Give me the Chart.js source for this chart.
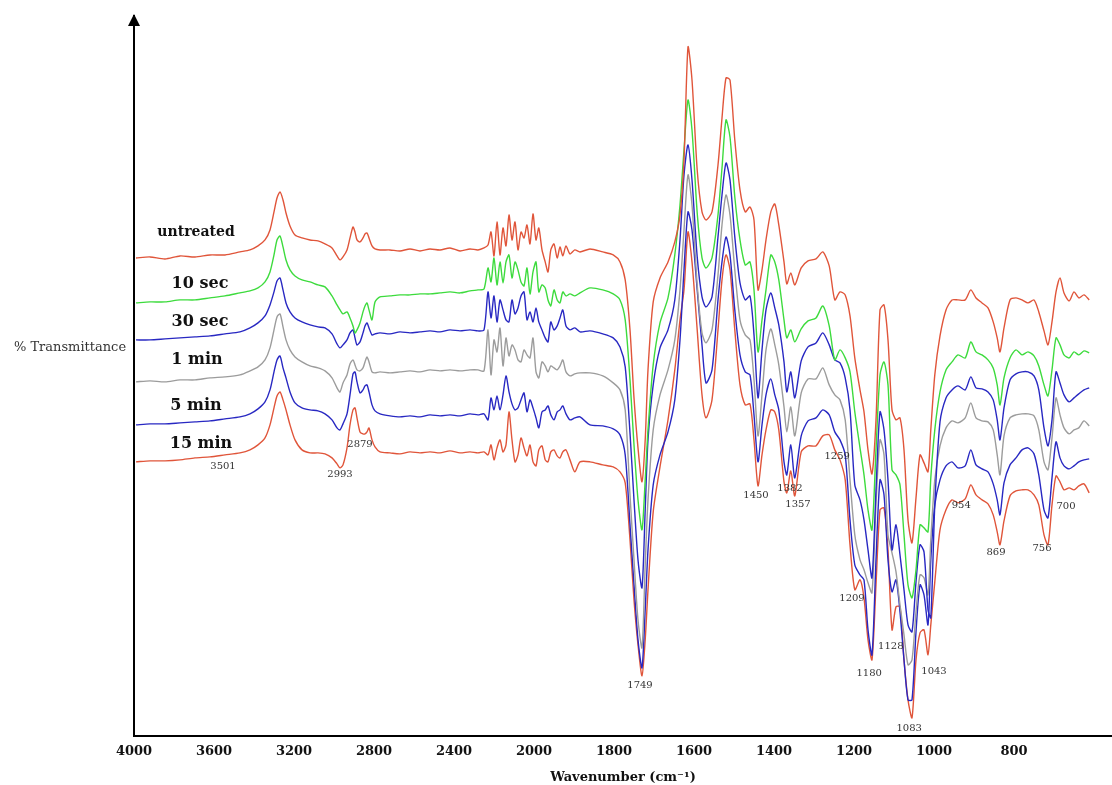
<!DOCTYPE html>
<html>
<head>
<meta charset="utf-8">
<script src="https://cdn.jsdelivr.net/npm/chart.js@4.4.1/dist/chart.umd.min.js"></script>
<style>
  html, body { margin: 0; padding: 0; background: #fff; }
</style>
</head>
<body>
<canvas id="ftir" width="1112" height="785"></canvas>
<script>
// wavenumber grid (cm-1) shared by all spectra
const wavenumbers = [
  3990,3920,3845,3770,3695,3620,3545,3470,3420,3380,3345,3320,3300,3285,3270,3255,3240,3220,3195,3160,
  3120,3080,3045,3010,2985,2970,2955,2935,2920,2905,2895,2885,2870,2855,2845,2835,2825,2810,2795,2770,
  2720,2670,2620,2570,2520,2470,2420,2370,2320,2280,2250,
  2230,2215,2200,2185,2170,2155,2140,2125,2110,2095,2080,2065,2050,2035,2020,2005,1995,1988,1980,1972,
  1965,1958,1950,1942,1935,1928,1920,1910,1898,1885,
  1860,1828,1802,1785,1772,1760,1750,1740,1730,1722,1715,1702,1685,1665,1648,1635,1625,1615,1605,1592,
  1580,1570,1555,1540,1530,1520,1510,1498,1485,1472,1460,1450,1440,1430,1420,1408,1398,1388,1375,1368,
  1358,1348,1332,1315,1295,1278,1262,1248,1235,1222,1210,1198,1185,1175,1165,1155,1145,1135,1125,1115,
  1105,1095,1085,1075,1065,1055,1045,1035,1025,1015,1008,998,985,970,955,940,922,908,895,880,
  865,852,842,835,825,810,795,780,765,750,738,725,715,705,695,685,675,662,650,638,625,612
];

// % transmittance, offset spectra
const untreated = [
  47.8,47.9,47.7,48.0,47.9,48.1,48.1,48.4,48.6,49.0,49.6,50.6,52.4,53.8,54.4,53.6,52.3,51.0,50.1,49.8,
  49.6,49.5,49.2,48.8,48.0,47.6,47.9,48.6,49.8,50.9,50.4,49.6,49.4,49.8,50.2,50.3,49.8,49.0,48.7,48.6,
  48.6,48.5,48.7,48.5,48.7,48.6,48.8,48.5,48.7,48.6,48.8,
  49.1,50.4,48.0,51.4,48.1,50.8,49.0,52.1,49.6,51.4,48.6,50.4,49.8,51.1,49.2,52.2,49.6,50.8,48.6,47.4,
  46.4,48.6,49.2,47.8,48.9,48.0,49.0,48.2,48.6,48.4,
  48.7,48.4,48.1,47.4,45.6,40.6,33.8,28.8,25.4,29.6,36.6,43.4,45.8,47.4,49.4,52.1,57.6,68.9,65.6,56.6,
  52.4,51.6,52.4,57.1,61.8,65.8,65.6,59.6,54.6,52.4,52.9,51.6,44.6,46.6,49.6,52.4,53.2,51.1,47.4,45.2,
  46.3,45.1,46.8,47.5,47.7,48.4,47.0,43.6,44.4,44.1,42.0,37.8,34.6,32.4,28.6,26.2,31.6,42.6,43.1,39.6,
  32.6,31.6,31.8,28.6,21.6,19.3,23.8,28.1,27.3,26.4,30.6,36.1,40.0,42.6,43.6,43.6,43.6,44.6,43.8,43.3,
  42.8,41.4,39.8,38.4,40.8,43.6,43.8,43.6,43.3,43.6,42.4,40.5,39.1,41.4,44.4,45.8,44.3,43.5,44.4,43.8,
  44.1,43.6
];
const sec10 = [
  43.3,43.4,43.4,43.6,43.6,43.8,44.0,44.3,44.5,44.8,45.4,46.4,48.1,49.6,50.0,48.9,47.6,46.6,46.0,45.6,
  45.4,45.1,44.9,44.0,43.1,42.6,42.2,42.4,41.8,41.0,40.3,40.6,41.3,42.4,43.0,43.3,42.6,41.6,43.4,43.9,
  44.0,44.1,44.1,44.2,44.2,44.3,44.4,44.3,44.5,44.6,44.7,
  46.8,45.4,47.8,45.1,47.4,45.3,47.4,48.1,45.8,47.4,46.6,45.4,45.0,46.8,44.2,46.4,47.4,44.4,45.1,44.8,
  43.6,43.0,44.6,43.6,43.3,44.4,44.0,44.2,44.0,44.3,
  44.8,44.6,44.2,43.6,41.6,35.6,29.1,23.6,20.6,25.6,30.6,37.1,41.3,43.8,48.1,53.1,58.6,63.6,60.6,52.3,
  47.8,46.8,47.8,52.1,56.8,61.6,59.9,53.9,49.6,47.1,47.4,44.6,38.4,41.6,44.6,48.1,47.4,45.6,41.6,39.8,
  40.6,39.4,40.7,41.5,41.8,43.0,41.0,37.6,38.6,37.8,36.4,32.4,28.8,26.1,22.6,20.6,28.6,36.1,37.4,35.1,
  26.6,26.1,25.1,20.1,15.1,13.8,16.6,21.1,20.8,20.4,25.8,30.6,34.4,36.6,37.4,38.1,37.8,39.4,38.4,38.1,
  37.6,36.8,35.1,33.1,35.8,37.8,38.6,38.1,38.4,38.0,37.0,35.1,34.0,36.6,39.8,39.1,38.1,37.8,38.4,38.1,
  38.5,38.3
];
const sec30 = [
  39.6,39.6,39.7,39.8,39.9,40.0,40.2,40.4,40.8,41.3,42.0,43.1,44.4,45.5,45.8,44.6,43.3,42.4,41.8,41.4,
  41.1,40.9,40.8,40.2,39.2,38.8,39.1,39.6,40.3,40.6,39.8,39.1,39.4,40.3,41.0,41.3,40.8,40.1,40.2,40.3,
  40.2,40.4,40.3,40.4,40.5,40.4,40.6,40.5,40.6,40.5,40.6,
  44.4,41.8,44.0,41.4,43.6,42.6,41.6,41.4,43.6,42.2,42.8,44.0,44.4,41.6,42.4,41.4,42.8,41.4,40.6,39.8,
  39.4,41.4,40.6,41.0,41.8,42.6,41.0,40.6,40.8,40.4,
  40.5,40.2,39.8,38.9,36.9,30.3,23.6,17.6,14.8,22.6,29.6,35.1,38.8,40.6,43.6,49.6,56.1,59.1,55.6,47.9,
  43.9,42.9,43.9,49.9,54.1,57.3,55.6,49.9,45.3,43.6,44.0,40.1,33.8,38.6,42.6,44.3,42.8,41.1,37.4,34.4,
  36.4,33.8,37.5,38.9,39.3,40.3,39.1,37.6,37.3,35.8,32.6,25.1,23.6,21.6,18.6,15.8,24.6,32.4,30.6,25.6,
  18.6,21.1,18.1,14.6,11.1,10.4,15.4,19.1,18.4,12.6,11.8,23.1,31.4,33.8,34.6,35.0,34.6,35.9,34.8,34.7,
  34.4,33.6,31.6,29.6,32.8,35.6,36.2,36.4,36.4,36.0,34.6,30.8,29.0,31.6,36.4,35.3,34.1,33.4,33.8,34.2,
  34.6,34.8
];
const min1 = [
  35.4,35.5,35.4,35.6,35.6,35.8,35.9,36.1,36.5,36.9,37.6,38.8,40.6,41.9,42.2,40.9,39.6,38.6,37.9,37.4,
  37.0,36.8,36.5,35.8,34.8,34.4,35.3,36.1,37.2,37.6,37.1,36.6,36.5,36.8,37.4,37.9,37.4,36.4,36.3,36.4,
  36.3,36.4,36.5,36.4,36.6,36.5,36.6,36.5,36.6,36.6,36.5,
  40.6,36.1,39.6,38.4,40.8,37.0,39.8,38.0,39.1,38.6,37.6,37.4,38.6,38.1,37.8,39.8,36.4,35.8,37.4,37.0,
  36.4,37.0,36.8,36.6,37.0,37.6,36.4,36.0,36.2,36.3,
  36.3,36.0,35.3,34.6,32.6,24.1,17.6,11.6,8.8,17.1,23.6,30.6,34.1,36.6,39.6,44.6,50.6,56.1,53.1,45.1,
  40.3,39.3,40.6,46.1,51.1,54.1,52.1,46.6,41.6,40.1,39.6,35.6,30.0,34.1,38.6,40.7,39.1,37.1,32.9,30.4,
  32.9,30.0,34.3,35.7,35.7,36.8,35.1,34.1,33.6,31.6,25.6,20.1,17.6,16.6,15.3,14.3,23.1,29.6,28.1,20.1,
  18.3,16.4,13.1,10.1,7.1,7.6,12.4,16.1,15.8,14.1,19.6,25.6,29.0,30.8,31.5,31.3,31.8,33.3,31.8,31.5,
  31.4,30.6,28.1,26.1,30.0,31.8,32.1,32.2,32.2,32.0,30.6,27.4,26.6,29.8,33.8,32.1,30.8,30.2,30.6,30.8,
  31.5,31.0
];
const min5 = [
  31.1,31.2,31.2,31.3,31.4,31.5,31.7,31.9,32.2,32.7,33.4,34.6,36.4,37.6,38.0,36.8,35.8,34.4,33.3,32.8,
  32.6,32.5,32.2,31.6,30.8,30.6,31.2,32.2,34.1,36.2,36.4,35.4,34.3,34.6,35.0,35.1,34.4,33.1,32.5,32.2,
  32.0,31.9,32.0,31.9,32.1,32.0,32.1,32.0,32.2,32.1,32.2,
  31.6,33.8,32.6,34.0,32.6,34.1,36.0,34.4,33.2,32.6,32.8,33.6,34.3,32.4,33.6,32.8,31.8,30.8,32.4,32.6,
  33.0,32.1,31.6,32.4,32.6,33.0,32.2,31.6,31.8,31.9,
  31.1,31.0,30.7,30.1,28.1,21.1,15.1,9.6,6.8,12.6,18.6,25.1,28.1,30.4,33.6,39.6,46.6,52.4,50.6,44.6,
  39.1,35.3,36.6,43.6,47.4,49.9,48.1,42.6,38.1,36.4,36.1,32.1,27.4,31.1,34.1,35.7,34.1,32.6,27.4,26.1,
  29.1,25.8,30.0,31.5,31.8,32.6,32.1,30.4,29.6,28.1,21.6,17.1,16.1,15.6,10.6,8.1,17.6,25.6,24.1,17.6,
  14.4,15.6,12.4,7.6,3.6,3.6,10.4,15.1,14.1,11.1,17.6,23.1,25.6,27.0,27.4,26.8,27.0,28.6,27.1,26.7,
  26.4,25.2,23.6,22.1,25.3,27.1,27.8,28.6,28.8,28.2,26.1,22.6,21.8,25.8,29.4,27.8,27.0,26.7,27.0,27.4,
  27.6,27.7
];
const min15 = [
  27.4,27.5,27.5,27.6,27.8,27.9,28.1,28.3,28.6,29.1,29.8,31.1,32.8,34.0,34.4,33.6,32.6,31.1,29.6,28.6,
  28.3,28.3,28.2,27.8,27.2,26.8,27.1,28.8,31.1,32.6,32.8,31.8,30.4,30.2,30.2,30.4,30.8,29.6,28.9,28.4,
  28.3,28.2,28.4,28.3,28.4,28.3,28.5,28.3,28.4,28.3,28.4,
  28.1,29.1,27.6,28.8,29.6,28.4,29.1,32.4,29.6,27.4,28.1,29.8,28.8,28.0,29.1,27.4,27.0,28.6,29.0,27.6,
  27.4,28.4,28.6,28.0,27.8,28.4,28.6,27.6,26.4,27.4,
  27.4,27.1,26.9,26.4,25.3,19.6,13.6,9.1,6.0,9.6,14.6,22.4,26.9,31.6,36.6,41.6,44.6,50.4,47.4,40.6,
  34.1,31.8,33.6,40.6,45.6,48.1,46.6,40.6,35.1,33.1,33.2,29.6,25.0,28.1,30.6,32.6,32.4,30.6,25.4,24.3,
  26.5,24.0,28.4,29.0,29.0,30.0,30.1,28.6,27.6,25.6,19.1,14.6,15.6,13.8,9.6,7.6,15.1,22.6,22.8,18.6,
  10.6,12.9,12.9,7.6,3.6,1.8,7.6,10.3,10.6,8.1,11.1,15.4,20.6,22.6,23.6,23.3,23.7,25.1,24.1,23.6,
  23.2,22.1,20.4,19.1,21.5,24.0,24.5,24.6,24.6,24.1,23.1,20.1,19.1,23.1,26.0,25.4,24.6,24.8,24.6,25.0,
  25.2,24.3
];

const tickLabels = [4000, 3600, 3200, 2800, 2400, 2000, 1800, 1600, 1400, 1200, 1000, 800];
const seriesNames = ['untreated', '10 sec', '30 sec', '1 min', '5 min', '15 min'];
const seriesColors = ['#e0553a', '#3ddb3d', '#2828c2', '#9c9c9c', '#2828c2', '#e0553a'];
// where each series name sits: [wavenumber, transmittance]
const nameSpots = [[3690, 50.4], [3670, 45.2], [3670, 41.4], [3685, 37.6], [3690, 33.0], [3665, 29.2]];
// band assignments: [label, wavenumber, transmittance]
const peakLabels = [
  ['3501', 3555, 26.9], ['2993', 2970, 26.1], ['2879', 2870, 29.1], ['1749', 1735, 5.0],
  ['1450', 1445, 24.0], ['1382', 1360, 24.7], ['1357', 1340, 23.1], ['1259', 1242, 27.9],
  ['1209', 1205, 13.7], ['1180', 1162, 6.2], ['1128', 1108, 8.9], ['1083', 1062, 0.7],
  ['1043', 1000, 6.4], ['954', 932, 23.0], ['869', 845, 18.3], ['756', 730, 18.7], ['700', 670, 22.9]
];

// scale changes at 2000 cm-1 (400 per division above, 200 below)
function toAxis(w) { return w >= 2000 ? (4000 - w) / 400 : 5 + (2000 - w) / 200; }
function fromAxis(u) { return u <= 5 ? 4000 - 400 * u : 2000 - 200 * (u - 5); }

const allSeries = [untreated, sec10, sec30, min1, min5, min15];
const datasets = allSeries.map((vals, k) => ({
  label: seriesNames[k],
  data: wavenumbers.map((w, i) => ({ x: toAxis(w), y: vals[i] })),
  borderColor: seriesColors[k],
  borderWidth: 1.4,
  pointRadius: 0,
  tension: 0.25,
  fill: false
}));

const textPlugin = {
  id: 'ftirText',
  afterDatasetsDraw(chart) {
    const ctx = chart.ctx;
    const xs = chart.scales.x, ys = chart.scales.y;
    ctx.save();
    ctx.textAlign = 'center';
    ctx.textBaseline = 'middle';
    ctx.fillStyle = '#333';
    ctx.font = '10px "DejaVu Serif"';
    peakLabels.forEach(p => {
      ctx.fillText(p[0], xs.getPixelForValue(toAxis(p[1])), ys.getPixelForValue(p[2]));
    });
    ctx.fillStyle = '#111';
    seriesNames.forEach((name, k) => {
      ctx.font = (k === 0 ? 'bold 14px' : 'bold 16px') + ' "DejaVu Serif"';
      const s = nameSpots[k];
      ctx.fillText(name, xs.getPixelForValue(toAxis(s[0])), ys.getPixelForValue(s[1]));
    });
    // y title, written horizontally left of the axis
    ctx.fillStyle = '#333';
    ctx.font = '13px "DejaVu Serif"';
    ctx.fillText('% Transmittance', chart.chartArea.left / 2 + 3, ys.getPixelForValue(38.8));
    // arrow head on y axis
    const ax = chart.chartArea.left, top = chart.chartArea.top;
    ctx.fillStyle = '#000';
    ctx.beginPath();
    ctx.moveTo(ax, top - 2);
    ctx.lineTo(ax - 6, top + 10);
    ctx.lineTo(ax + 6, top + 10);
    ctx.closePath();
    ctx.fill();
    ctx.restore();
  }
};

new Chart(document.getElementById('ftir'), {
  type: 'line',
  data: { datasets: datasets },
  options: {
    responsive: false,
    animation: false,
    layout: { padding: { left: 134, right: 0, top: 16, bottom: 0 } },
    plugins: {
      legend: { display: false },
      tooltip: { enabled: false }
    },
    scales: {
      x: {
        type: 'linear',
        min: 0,
        max: toAxis(555),
        afterBuildTicks: axis => { axis.ticks = tickLabels.map(w => ({ value: toAxis(w) })); },
        ticks: {
          callback: v => String(Math.round(fromAxis(v))),
          font: { family: 'DejaVu Serif', weight: 'bold', size: 13 },
          color: '#111',
          padding: 8,
          maxRotation: 0,
          autoSkip: false
        },
        grid: { display: false, drawTicks: false },
        border: { display: true, color: '#000', width: 2 },
        title: {
          display: true,
          text: 'Wavenumber (cm\u207B\u00B9)',
          font: { family: 'DejaVu Serif', weight: 'bold', size: 13 },
          color: '#111',
          padding: { top: 2, bottom: 0 }
        }
      },
      y: {
        min: 0,
        max: 72,
        ticks: { display: false },
        grid: { display: false, drawTicks: false },
        border: { display: true, color: '#000', width: 2 }
      }
    }
  },
  plugins: [textPlugin]
});
</script>
</body>
</html>
